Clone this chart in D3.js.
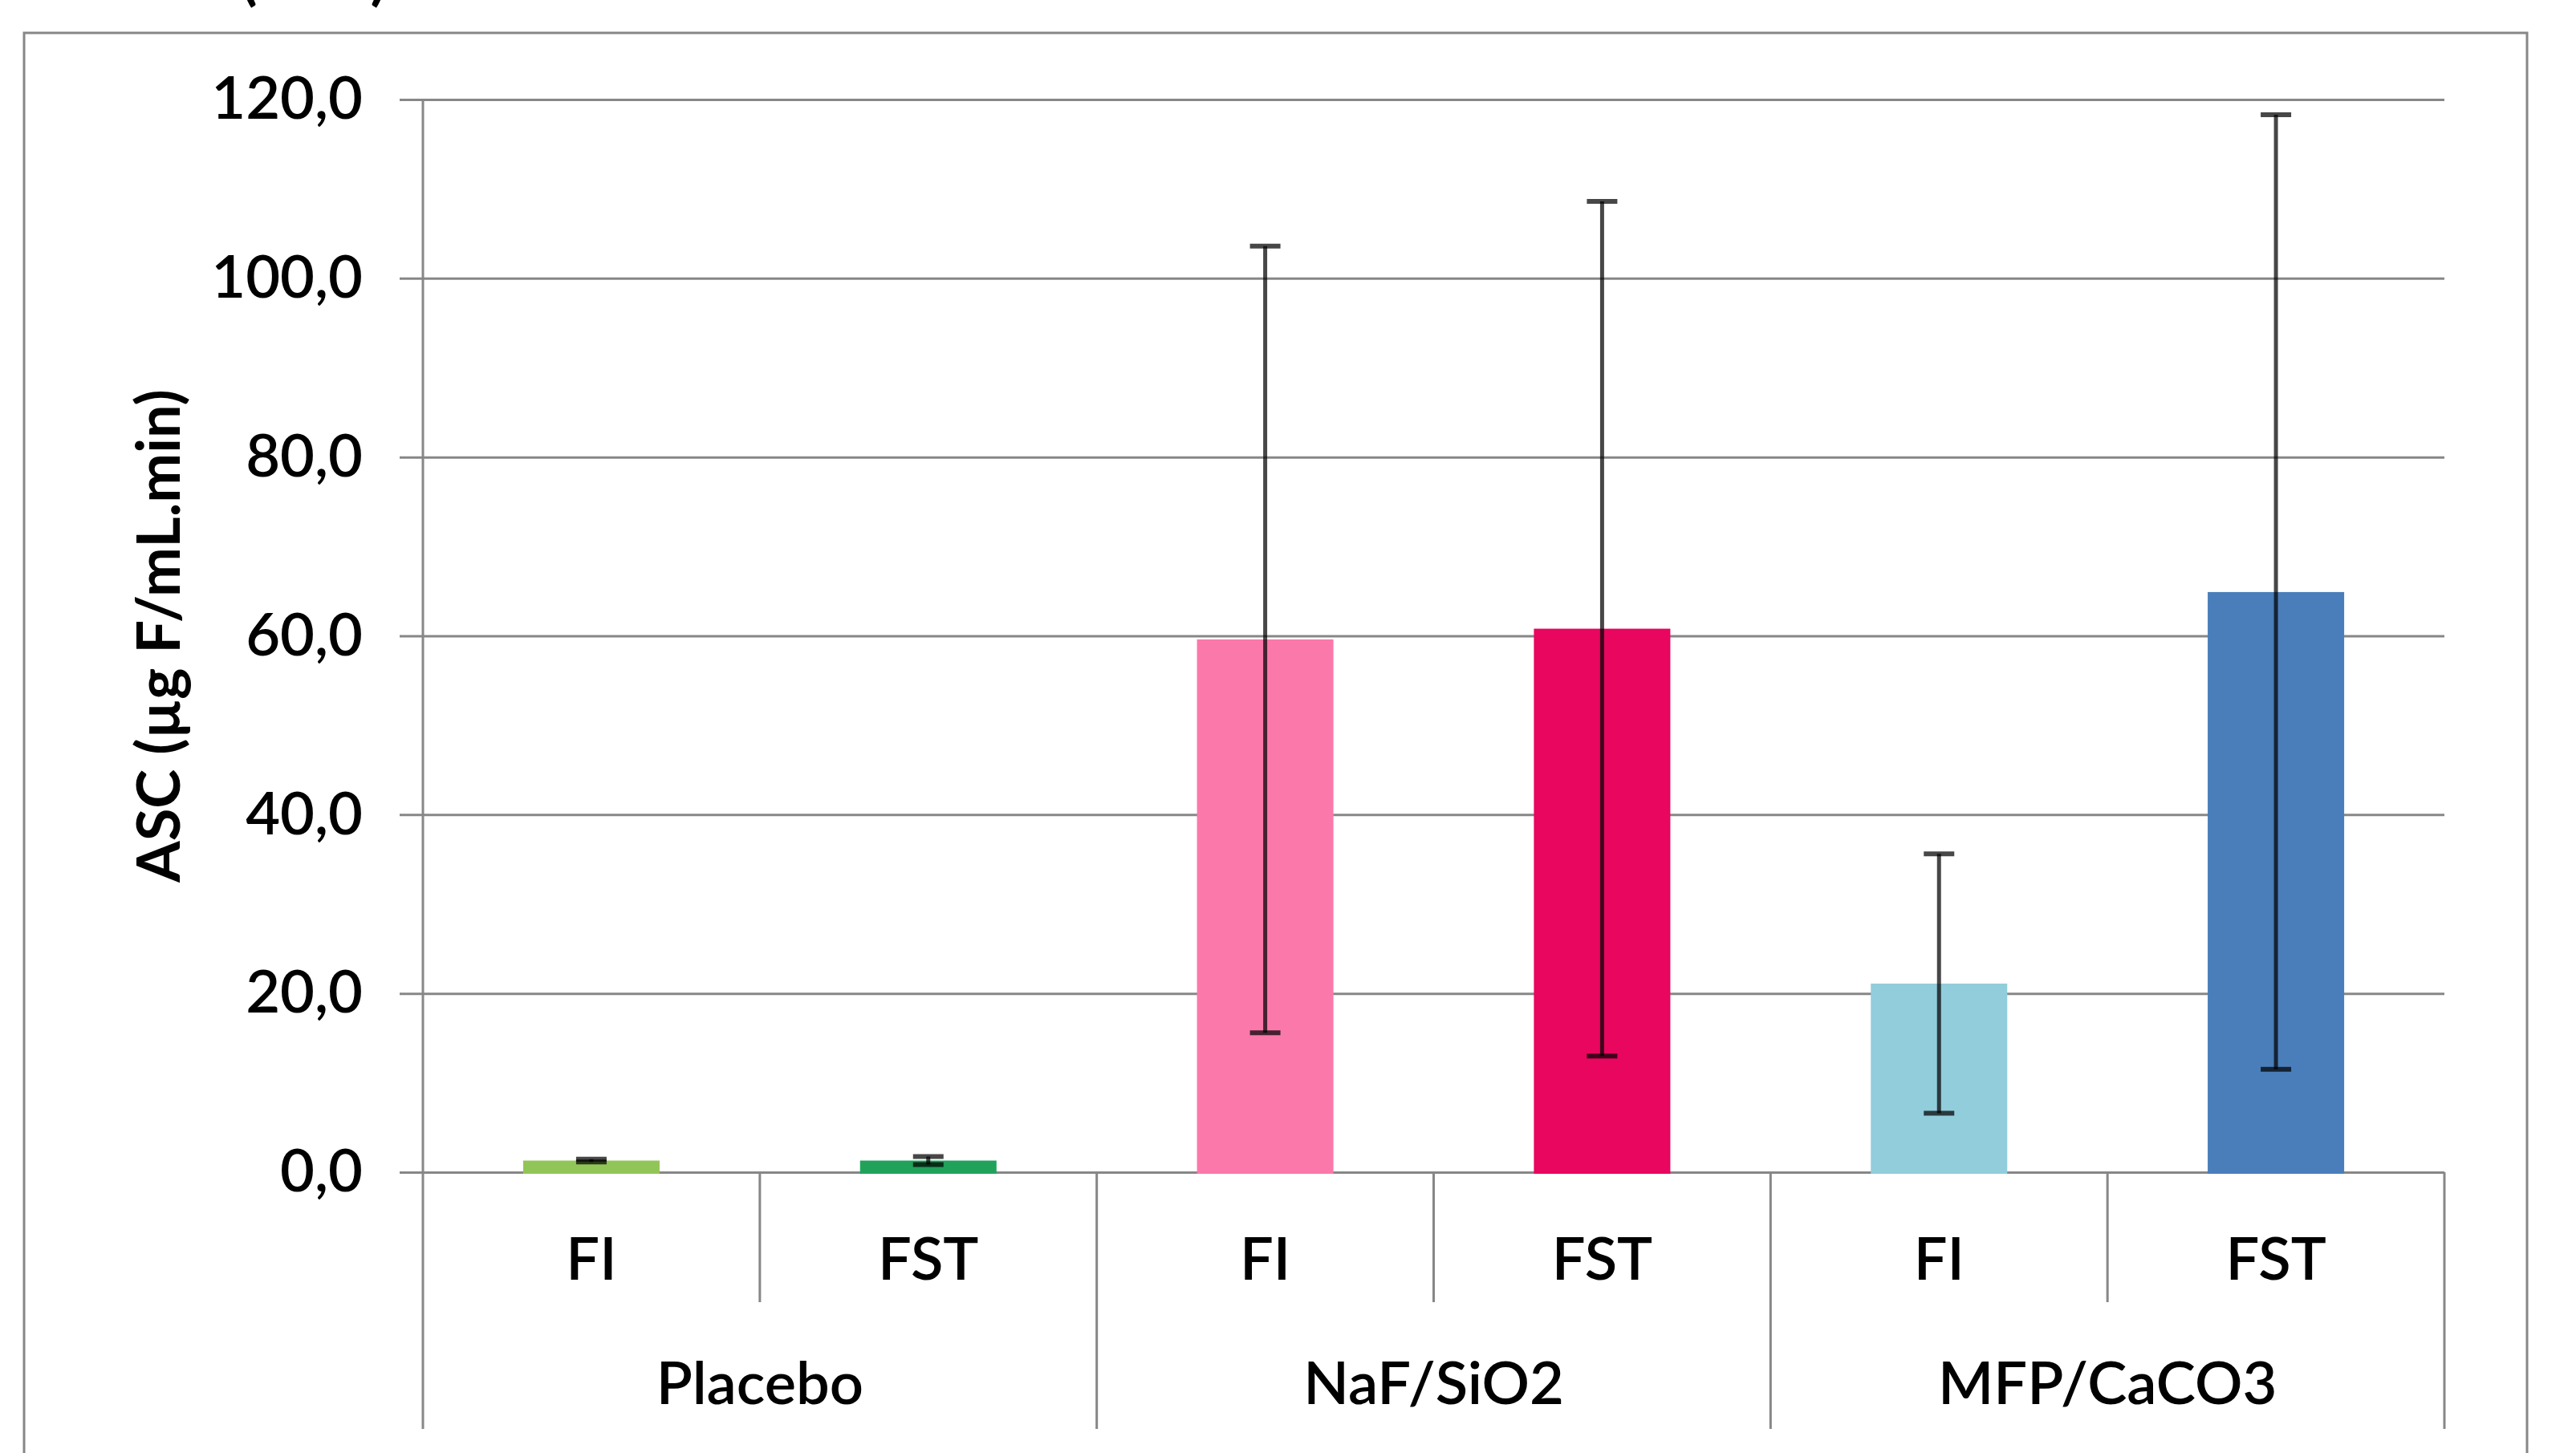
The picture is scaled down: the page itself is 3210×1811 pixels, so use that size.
<!DOCTYPE html>
<html>
<head>
<meta charset="utf-8">
<script src="https://cdn.jsdelivr.net/npm/d3@7"></script>
<style>
  body { margin: 0; background: #fff; }
  text { font-family: Lato, "Open Sans", sans-serif; fill: #000; }
</style>
</head>
<body>
<div id="chart"></div>
<script>
// values (ASC, mean and SD)
var groups = ["Placebo", "NaF/SiO2", "MFP/CaCO3"];
var subGroups = ["FI", "FST"];
var means = [1.3, 1.3, 59.6, 60.8, 21.1, 64.9];
var errors = [0.15, 0.45, 44.0, 47.8, 14.5, 53.4];
var barColors = ["#92c557", "#20a25b", "#fb78ab", "#e8065f", "#92cddc", "#4a7ebb"];
var yTicks = [0, 20, 40, 60, 80, 100, 120];
var yTitle = "ASC (µg F/mL.min)";
var topTitle = "(ASC)";

var svgWidth = 3210;
var svgHeight = 1811;

var margin = {
  top: 124,
  right: 164,
  bottom: 350,
  left: 527
};

var width = svgWidth - margin.left - margin.right;
var height = svgHeight - margin.top - margin.bottom;

var gridColor = "#878787";
var labelWeight = 600;

var svg = d3.select("#chart")
  .append("svg")
  .attr("width", svgWidth)
  .attr("height", svgHeight);

// outer chart frame (bottom runs off the picture)
svg.append("rect")
  .attr("x", 30)
  .attr("y", 41)
  .attr("width", 3119)
  .attr("height", svgHeight)
  .attr("fill", "#fff")
  .attr("stroke", gridColor)
  .attr("stroke-width", 3);

// title, cut off by the top edge as in the original
svg.append("text")
  .attr("x", 391)
  .attr("y", -2)
  .attr("text-anchor", "middle")
  .attr("font-size", 74)
  .attr("font-weight", "bold")
  .text(topTitle);

var chartGroup = svg.append("g")
  .attr("transform", `translate(${margin.left}, ${margin.top})`);

// one slot per bar
var slots = [];
groups.forEach(function(g) {
  subGroups.forEach(function(s) {
    slots.push({ group: g, sub: s });
  });
});
slots.forEach(function(d, i) {
  d.key = d.group + "|" + d.sub;
  d.value = means[i];
  d.err = errors[i];
  d.color = barColors[i];
});

var xScale = d3.scaleBand()
  .domain(slots.map(d => d.key))
  .range([0, width])
  .paddingInner(0.595)
  .paddingOuter(0.2975);

var groupScale = d3.scaleBand()
  .domain(groups)
  .range([0, width]);

var yScale = d3.scaleLinear()
  .domain([0, 120])
  .range([height, 0]);

// gridlines + tick labels
var leftAxis = d3.axisLeft(yScale)
  .tickValues(yTicks)
  .tickSize(-width)
  .tickPadding(75)
  .tickFormat(d => d3.format(".1f")(d).replace(".", ","));

var yAxis = chartGroup.append("g")
  .call(leftAxis);

yAxis.select(".domain").remove();
yAxis.selectAll(".tick line")
  .attr("x1", -29)
  .attr("stroke", gridColor)
  .attr("stroke-width", 3);
yAxis.selectAll(".tick text")
  .attr("font-family", "Lato, sans-serif")
  .attr("font-size", 74)
  .attr("font-weight", labelWeight)
  .attr("fill", "#000");

var catDepth = 320;
var subDepth = 162;

// vertical axis line, running down through the category table
chartGroup.append("line")
  .attr("x1", 0)
  .attr("x2", 0)
  .attr("y1", 0)
  .attr("y2", height + catDepth)
  .attr("stroke", gridColor)
  .attr("stroke-width", 3);

// group separators
chartGroup.selectAll(".groupSep")
  .data(groups)
  .enter()
  .append("line")
  .classed("groupSep", true)
  .attr("x1", g => groupScale(g) + groupScale.bandwidth())
  .attr("x2", g => groupScale(g) + groupScale.bandwidth())
  .attr("y1", height)
  .attr("y2", height + catDepth)
  .attr("stroke", gridColor)
  .attr("stroke-width", 3);

// FI / FST separators
chartGroup.selectAll(".subSep")
  .data(groups)
  .enter()
  .append("line")
  .classed("subSep", true)
  .attr("x1", g => groupScale(g) + groupScale.bandwidth() / 2)
  .attr("x2", g => groupScale(g) + groupScale.bandwidth() / 2)
  .attr("y1", height)
  .attr("y2", height + subDepth)
  .attr("stroke", gridColor)
  .attr("stroke-width", 3);

// bars
chartGroup.selectAll(".bar")
  .data(slots)
  .enter()
  .append("rect")
  .classed("bar", true)
  .attr("x", d => xScale(d.key))
  .attr("width", xScale.bandwidth())
  .attr("y", d => yScale(d.value))
  .attr("height", d => yScale(0) - yScale(d.value) + 2)
  .attr("fill", d => d.color);

// error bars
var capHalf = 19;
var errGroup = chartGroup.selectAll(".err")
  .data(slots)
  .enter()
  .append("g")
  .classed("err", true)
  .attr("stroke", "#000")
  .attr("stroke-opacity", 0.72)
  .attr("stroke-width", 5);

errGroup.append("line")
  .attr("x1", d => xScale(d.key) + xScale.bandwidth() / 2)
  .attr("x2", d => xScale(d.key) + xScale.bandwidth() / 2)
  .attr("y1", d => yScale(d.value + d.err))
  .attr("y2", d => yScale(d.value - d.err));

errGroup.append("line")
  .attr("x1", d => xScale(d.key) + xScale.bandwidth() / 2 - capHalf)
  .attr("x2", d => xScale(d.key) + xScale.bandwidth() / 2 + capHalf)
  .attr("y1", d => yScale(d.value + d.err))
  .attr("y2", d => yScale(d.value + d.err))
  .attr("stroke-width", 6);

errGroup.append("line")
  .attr("x1", d => xScale(d.key) + xScale.bandwidth() / 2 - capHalf)
  .attr("x2", d => xScale(d.key) + xScale.bandwidth() / 2 + capHalf)
  .attr("y1", d => yScale(d.value - d.err))
  .attr("y2", d => yScale(d.value - d.err))
  .attr("stroke-width", 6);

// category labels
chartGroup.selectAll(".subLabel")
  .data(slots)
  .enter()
  .append("text")
  .classed("subLabel", true)
  .attr("x", d => xScale(d.key) + xScale.bandwidth() / 2)
  .attr("y", height + 134)
  .attr("text-anchor", "middle")
  .attr("font-size", 74)
  .attr("font-weight", labelWeight)
  .text(d => d.sub);

chartGroup.selectAll(".groupLabel")
  .data(groups)
  .enter()
  .append("text")
  .classed("groupLabel", true)
  .attr("x", g => groupScale(g) + groupScale.bandwidth() / 2)
  .attr("y", height + 289)
  .attr("text-anchor", "middle")
  .attr("font-size", 74)
  .attr("font-weight", labelWeight)
  .text(g => g);

// y axis title
chartGroup.append("text")
  .attr("transform", `translate(${198 - margin.left}, ${height / 2}) rotate(-90)`)
  .attr("text-anchor", "middle")
  .attr("dy", "0.35em")
  .attr("font-size", 74)
  .attr("font-weight", "bold")
  .text(yTitle);
</script>
</body>
</html>
